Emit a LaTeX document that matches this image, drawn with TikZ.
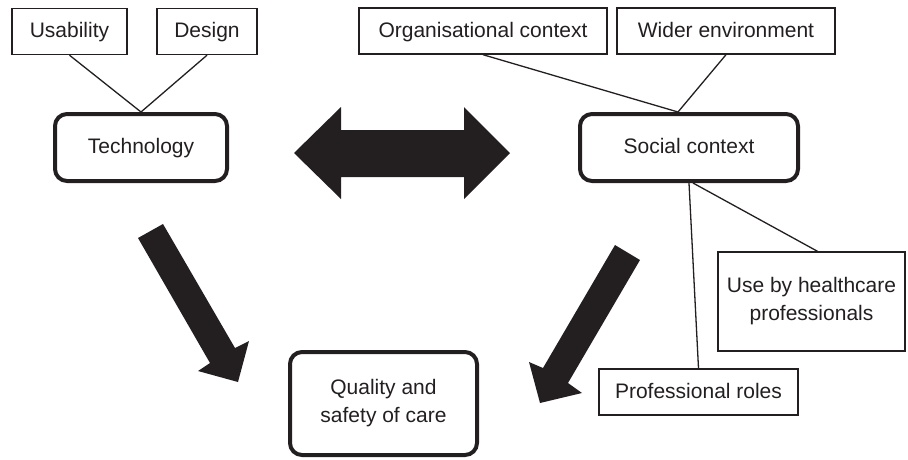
\documentclass[tikz,border=0pt]{standalone}
\usepackage{fontspec}
\setmainfont{Liberation Sans}
\definecolor{ink}{HTML}{231F20}
\begin{document}
\begin{tikzpicture}[x=1pt,y=-1pt,
  every node/.style={text=ink,font=\fontsize{21}{28}\selectfont,inner sep=0pt,align=center},
  oneline/.style={text height=15pt,text depth=3pt},
  subbox/.style={draw=ink,line width=1.4pt,rectangle},
  mainbox/.style={draw=ink,line width=4pt,rounded corners=12pt,rectangle},
  link/.style={draw=ink,line width=1.3pt},
  bigarrow/.style={fill=ink,draw=none}]
\useasboundingbox (0,0) rectangle (908,459);
% sub boxes
\node[subbox,oneline,minimum width=115pt,minimum height=46pt] (us) at (69.5,31.5) {Usability};
\node[subbox,oneline,minimum width=100pt,minimum height=46pt] (de) at (207,31.5) {Design};
\node[subbox,oneline,minimum width=248pt,minimum height=46pt] (org) at (483,31) {Organisational context};
\node[subbox,oneline,minimum width=218pt,minimum height=46pt] (wid) at (726,31) {Wider environment};
\node[subbox,minimum width=187pt,minimum height=99pt] (use) at (811.5,301.5) {Use by healthcare\\professionals};
\node[subbox,oneline,minimum width=199pt,minimum height=46pt] (prof) at (698.5,392) {Professional roles};
% main boxes
\node[mainbox,oneline,minimum width=172pt,minimum height=67pt] (tech) at (141,147.5) {Technology};
\node[mainbox,oneline,minimum width=218pt,minimum height=67pt] (soc) at (689,147.5) {Social context};
\node[mainbox,minimum width=187pt,minimum height=103pt] (qual) at (383.5,403.5) {Quality and\\safety of care};
% connectors
\draw[link] (us.south) -- (tech.north);
\draw[link] (de.south) -- (tech.north);
\draw[link] (org.south) -- ([xshift=-11pt]soc.north);
\draw[link] (wid.south) -- ([xshift=-11pt]soc.north);
\draw[link] (soc.south) -- (prof.north);
\draw[link] ([xshift=4pt]soc.south) -- ([xshift=6pt]use.north);
% big arrows
\fill[bigarrow] (294,153) -- (341,107) -- (341,130) -- (464,130) -- (464,107) -- (510,153)
  -- (464,199) -- (464,177) -- (341,177) -- (341,199) -- cycle;
\fill[bigarrow] (138,238) -- (163,224) -- (235,348) -- (249,341) -- (238,382)
  -- (198,371) -- (210,363) -- cycle;
\fill[bigarrow] (615,245) -- (640,260) -- (568,383) -- (582,393) -- (540,403)
  -- (529,362) -- (543,368) -- cycle;
\end{tikzpicture}
\end{document}
